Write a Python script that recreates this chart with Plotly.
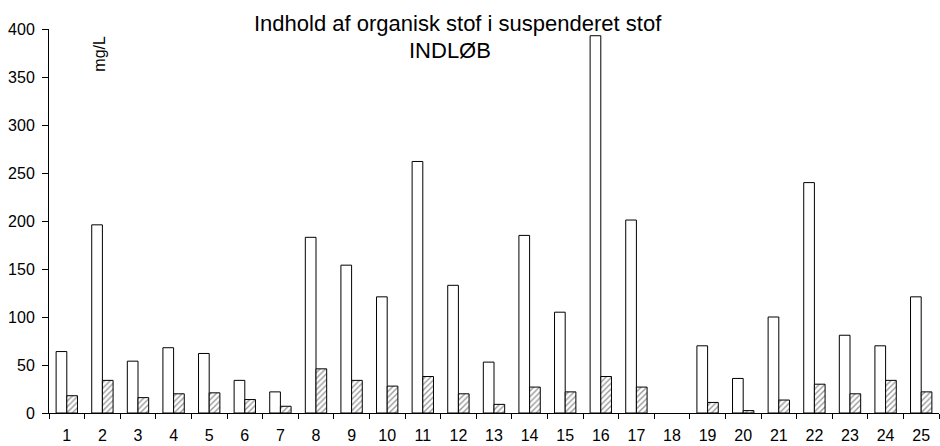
import plotly.graph_objects as go

categories = [str(i) for i in range(1, 26)]
total_values = [64, 196, 54, 68, 62, 34, 22, 183, 154, 121, 262, 133, 53, 185, 105,
                393, 201, None, 70, 36, 100, 240, 81, 70, 121]
organic_values = [18, 34, 16, 20, 21, 14, 7, 46, 34, 28, 38, 20, 9, 27, 22,
                  38, 27, None, 11, 2.5, 13.5, 30, 20, 34, 22]
y_ticks = [0, 50, 100, 150, 200, 250, 300, 350, 400]

FONT = "Liberation Sans, Arial, sans-serif"

fig = go.Figure()
fig.add_trace(go.Bar(
    x=categories, y=total_values,
    marker=dict(color="white", line=dict(color="black", width=1)),
    showlegend=False,
))
fig.add_trace(go.Bar(
    x=categories, y=organic_values,
    marker=dict(color="white", line=dict(color="black", width=1),
                pattern=dict(shape="/", fgcolor="#333333", bgcolor="white",
                             size=4, solidity=0.35)),
    showlegend=False,
))

fig.update_layout(
    width=940, height=446,
    margin=dict(l=49, r=1, t=29, b=33, autoexpand=False),
    paper_bgcolor="white", plot_bgcolor="white",
    barmode="group", bargap=0.4, bargroupgap=0,
    font=dict(family=FONT, color="black", size=16),
    showlegend=False,
)
fig.update_xaxes(
    type="category", tickson="boundaries",
    showline=True, linecolor="black", linewidth=1,
    ticks="outside", ticklen=5, tickcolor="black",
    showgrid=False, zeroline=False,
    tickfont=dict(size=16), ticklabelstandoff=8,
)
fig.update_yaxes(
    range=[0, 400], tickvals=y_ticks,
    showline=True, linecolor="black", linewidth=1,
    ticks="outside", ticklen=6, tickcolor="black",
    showgrid=False, zeroline=False,
    tickfont=dict(size=16), ticklabelstandoff=4,
)

fig.add_annotation(text="Indhold af organisk stof i suspenderet stof",
                   xref="paper", yref="paper", x=0.4596, y=1.0154,
                   xanchor="center", yanchor="middle", showarrow=False,
                   font=dict(size=22, family=FONT, color="black"))
fig.add_annotation(text="INDLØB",
                   xref="paper", yref="paper", x=0.4506, y=0.945,
                   xanchor="center", yanchor="middle", showarrow=False,
                   font=dict(size=22, family=FONT, color="black"))
fig.add_annotation(text="mg/L", textangle=-90,
                   xref="paper", yref="paper", x=0.0573, y=0.9357,
                   xanchor="center", yanchor="middle", showarrow=False,
                   font=dict(size=16, family=FONT, color="black"))

fig.write_html("out.html", config={"displayModeBar": False},
               post_script="document.body.style.margin='0';document.body.style.padding='0';")
